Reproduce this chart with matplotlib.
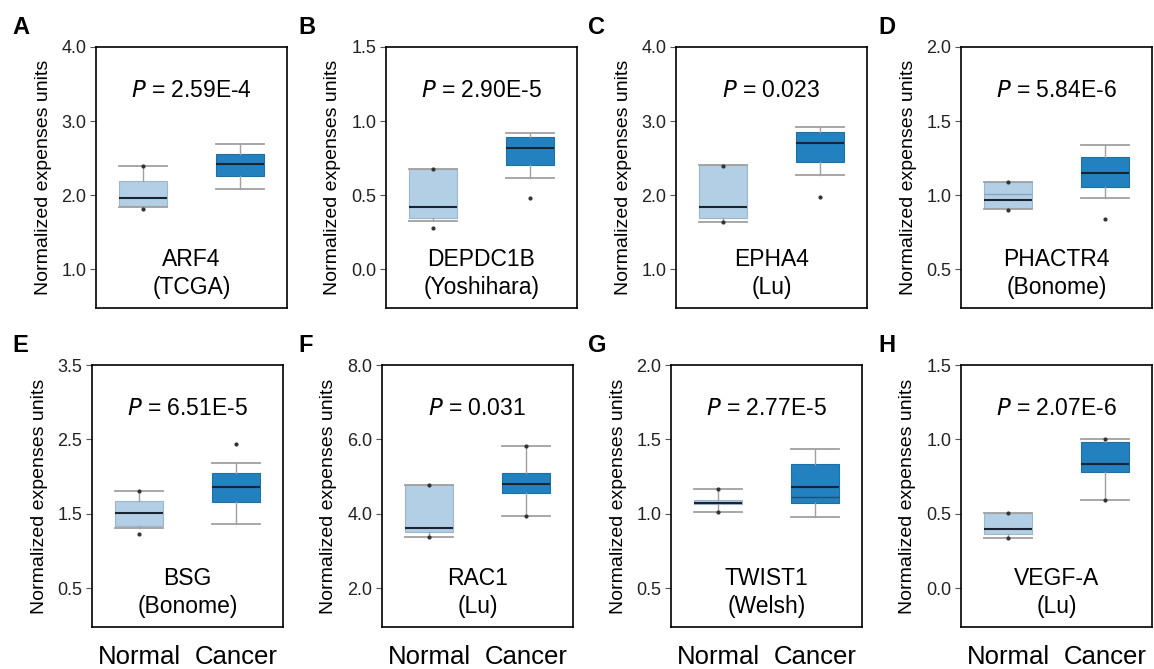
import matplotlib
matplotlib.use("Agg")
import matplotlib.pyplot as plt

plt.rcParams['font.family'] = ['Liberation Sans', 'DejaVu Sans']

# ---------------- data ----------------
panel_letters = ["A", "B", "C", "D", "E", "F", "G", "H"]
genes = ["ARF4", "DEPDC1B", "EPHA4", "PHACTR4", "BSG", "RAC1", "TWIST1", "VEGF-A"]
datasets = ["TCGA", "Yoshihara", "Lu", "Bonome", "Bonome", "Lu", "Welsh", "Lu"]
p_values = ["2.59E-4", "2.90E-5", "0.023", "5.84E-6", "6.51E-5", "0.031", "2.77E-5", "2.07E-6"]
groups = ["Normal", "Cancer"]
y_ticks = [
    [1.0, 2.0, 3.0, 4.0],
    [0.0, 0.5, 1.0, 1.5],
    [1.0, 2.0, 3.0, 4.0],
    [0.5, 1.0, 1.5, 2.0],
    [0.5, 1.5, 2.5, 3.5],
    [2.0, 4.0, 6.0, 8.0],
    [0.5, 1.0, 1.5, 2.0],
    [0.0, 0.5, 1.0, 1.5],
]

# Normal group box statistics
normal_whislo = [1.84, 0.326, 1.634, 0.905, 1.306, 3.37, 1.010, 0.336]
normal_q1     = [1.85, 0.348, 1.696, 0.911, 1.337, 3.50, 1.066, 0.362]
normal_med    = [1.957, 0.418, 1.836, 0.967, 1.516, 3.61, 1.075, 0.396]
normal_q3     = [2.19, 0.676, 2.406, 1.090, 1.677, 4.776, 1.093, 0.504]
normal_whishi = [2.39, 0.676, 2.406, 1.090, 1.812, 4.776, 1.167, 0.504]
normal_points = [[2.39, 1.82], [0.676, 0.28], [2.40, 1.634], [1.09, 0.904],
                 [1.812, 1.23], [4.776, 3.37], [1.167, 1.010], [0.504, 0.336]]
normal_extra  = [None, None, None, 1.008, None, None, None, None]

# Cancer group box statistics
cancer_whislo = [2.083, 0.618, 2.27, 0.979, 1.36, 3.95, 0.981, 0.593]
cancer_q1     = [2.262, 0.705, 2.45, 1.053, 1.655, 4.55, 1.071, 0.784]
cancer_med    = [2.42, 0.822, 2.70, 1.151, 1.856, 4.80, 1.178, 0.835]
cancer_q3     = [2.563, 0.894, 2.85, 1.255, 2.045, 5.09, 1.335, 0.980]
cancer_whishi = [2.689, 0.923, 2.92, 1.342, 2.19, 5.833, 1.436, 1.000]
cancer_points = [[], [0.483], [1.98], [0.837], [2.44], [5.833, 3.95], [], [1.0, 0.593]]
cancer_extra  = [None, None, None, None, None, None, 1.116, None]

# ---------------- style ----------------
W, H = 1154, 669
fig = plt.figure(figsize=(W / 100, H / 100), dpi=100)

row_top = [47, 365]
row_bot = [308, 627]
col_left = [[96, 386, 676, 961], [92, 382, 671, 961]]
ax_w = 191

box_colors = ["#b3cfe6", "#2381bf"]
edge_colors = ["#9db6c9", "#1f6fa3"]
letter_x = [12, 298, 588, 878]
letter_y = [28, 346]

for i in range(8):
    r, c = divmod(i, 4)
    left = col_left[r][c]
    ax = fig.add_axes([left / W, 1 - row_bot[r] / H, ax_w / W, (row_bot[r] - row_top[r]) / H])

    stats = []
    for (lo, q1, med, q3, hi, pts) in [
        (normal_whislo[i], normal_q1[i], normal_med[i], normal_q3[i], normal_whishi[i], normal_points[i]),
        (cancer_whislo[i], cancer_q1[i], cancer_med[i], cancer_q3[i], cancer_whishi[i], cancer_points[i]),
    ]:
        stats.append(dict(whislo=lo, q1=q1, med=med, q3=q3, whishi=hi, fliers=pts))

    bp = ax.bxp(stats, positions=[1, 2], widths=0.5, capwidths=0.5, patch_artist=True,
                showfliers=True,
                boxprops=dict(linewidth=0.8),
                whiskerprops=dict(color="#a0a0a0", linewidth=1.0),
                capprops=dict(color="#a0a0a0", linewidth=1.3),
                medianprops=dict(color="#1a2430", linewidth=1.5),
                flierprops=dict(marker="o", markersize=2.0, markerfacecolor="#333333",
                                markeredgecolor="#333333", linestyle="none"))
    for patch, fc, ec in zip(bp["boxes"], box_colors, edge_colors):
        patch.set_facecolor(fc)
        patch.set_edgecolor(ec)
    for pos, extra, col in [(1, normal_extra[i], "#8da4b6"), (2, cancer_extra[i], "#1c4f73")]:
        if extra is not None:
            ax.hlines(extra, pos - 0.25, pos + 0.25, colors=col, linewidth=1.0, zorder=3)

    ticks = y_ticks[i]
    step = ticks[1] - ticks[0]
    ax.set_ylim(ticks[0] - 0.52 * step, ticks[-1])
    ax.set_yticks(ticks)
    ax.set_yticklabels([f"{t:.1f}" for t in ticks])
    ax.set_xlim(0.51, 2.49)
    ax.tick_params(axis="y", direction="out", length=4, width=0.8, color="#555555",
                   labelsize=13, labelcolor="#222222", pad=3)
    if r == 1:
        ax.set_xticks([1, 2])
        ax.set_xticklabels(groups, fontsize=18.5)
        ax.tick_params(axis="x", length=0, pad=13)
    else:
        ax.set_xticks([])
    for s in ax.spines.values():
        s.set_linewidth(1.2)
        s.set_color("black")
    ax.set_ylabel("Normalized expenses units", fontsize=14, labelpad=7)

    ax.text(0.5, 0.835, "$\\it{P}$ = " + p_values[i], transform=ax.transAxes,
            ha="center", va="center", fontsize=16.5)
    ax.text(0.5, 0.185, genes[i], transform=ax.transAxes, ha="center", va="center", fontsize=16.5)
    ax.text(0.5, 0.078, "(" + datasets[i] + ")", transform=ax.transAxes,
            ha="center", va="center", fontsize=16.5)

    fig.text(letter_x[c] / W, 1 - letter_y[r] / H, panel_letters[i], fontsize=17,
             fontweight="bold", ha="left", va="center")

fig.savefig("out.png", dpi=100)
